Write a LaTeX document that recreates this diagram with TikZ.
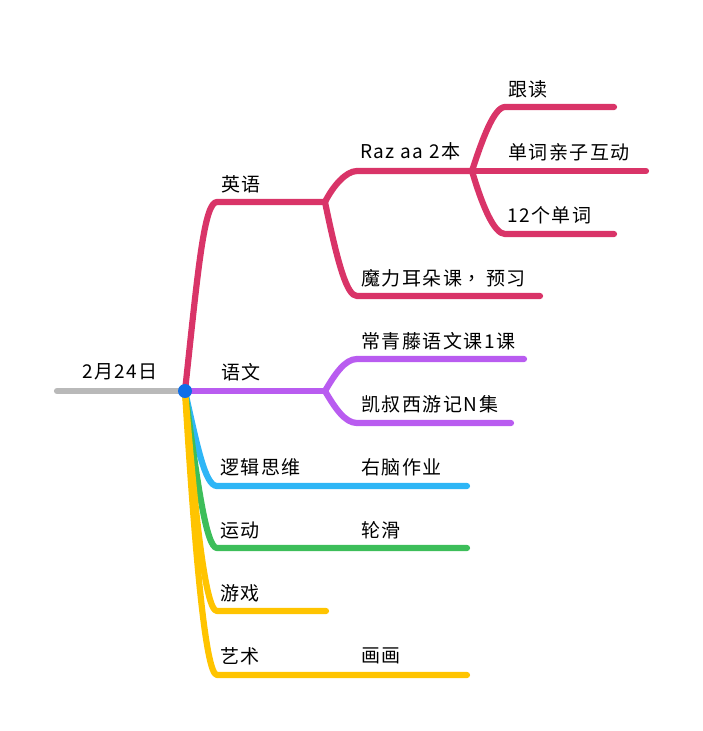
\documentclass[tikz,border=0pt]{standalone}
\usepackage{fontspec}
\setmainfont[LetterSpace=8]{Noto Sans CJK SC}
\newfontfamily\commafont[LetterSpace=8]{Noto Sans CJK TC}
\definecolor{cpink}{HTML}{D93468}
\definecolor{cpurple}{HTML}{B95CF0}
\definecolor{cblue}{HTML}{2EB6F6}
\definecolor{cgreen}{HTML}{3DBE5A}
\definecolor{cyellow}{HTML}{FFC400}
\definecolor{cgray}{HTML}{B9B9B9}
\definecolor{chub}{HTML}{0F6FE8}
\tikzset{
  link/.style={line width=6.2pt,line cap=round,line join=round},
  lbl/.style={anchor=west,inner sep=0pt,font=\fontsize{19}{21}\selectfont,text=black},
}
\begin{document}
\begin{tikzpicture}[x=1pt,y=-1pt]
\useasboundingbox (0,0) rectangle (702,731);
% junctions and free ends
\coordinate (root) at (57,391);
\coordinate (hub) at (185,391);
\coordinate (enA) at (217,202);
\coordinate (enJ) at (325,202);
\coordinate (razA) at (357,171);
\coordinate (razJ) at (472,171);
\coordinate (genA) at (505,107);
\coordinate (genE) at (614,107);
\coordinate (danE) at (646,171);
\coordinate (shiA) at (505,234);
\coordinate (shiE) at (614,234);
\coordinate (moA) at (357,296);
\coordinate (moE) at (540,296);
\coordinate (yuJ) at (325,391);
\coordinate (chA) at (357,359);
\coordinate (chE) at (524,359);
\coordinate (kaA) at (357,423);
\coordinate (kaE) at (511,423);
\coordinate (luA) at (217,486);
\coordinate (luE) at (467,486);
\coordinate (ydA) at (217,548);
\coordinate (ydE) at (467,548);
\coordinate (yxA) at (217,611);
\coordinate (yxE) at (326,611);
\coordinate (ysA) at (217,675);
\coordinate (ysE) at (467,675);
% connectors
\draw[link,cgray] (root) -- (hub);
\draw[link,cpink] (hub) .. controls (198,270) and (204,202) .. (enA) -- (enJ);
\draw[link,cpink] (enJ) .. controls (333,186) and (346,171) .. (razA) -- (razJ);
\draw[link,cpink] (enJ) .. controls (338,265) and (347,296) .. (moA) -- (moE);
\draw[link,cpink] (razJ) .. controls (482,140) and (494,107) .. (genA) -- (genE);
\draw[link,cpink] (razJ) -- (danE);
\draw[link,cpink] (razJ) .. controls (482,205) and (494,234) .. (shiA) -- (shiE);
\draw[link,cpurple] (hub) -- (yuJ);
\draw[link,cpurple] (yuJ) .. controls (335,374) and (345,359) .. (chA) -- (chE);
\draw[link,cpurple] (yuJ) .. controls (335,408) and (345,423) .. (kaA) -- (kaE);
\draw[link,cblue] (hub) .. controls (197,445) and (205,486) .. (luA) -- (luE);
\draw[link,cgreen] (hub) .. controls (197,480) and (206,548) .. (ydA) -- (ydE);
\draw[link,cyellow] (hub) .. controls (195,510) and (205,611) .. (yxA) -- (yxE);
\draw[link,cyellow] (hub) .. controls (194,540) and (205,675) .. (ysA) -- (ysE);
\fill[chub] (hub) circle (7pt);
% labels
\node[lbl] (t0) at (82,372) {2月24日};
\node[lbl] (t1) at (221,184) {英语};
\node[lbl] (t2) at (360,151) {Raz aa 2本};
\node[lbl] (t3) at (508,89) {跟读};
\node[lbl] (t4) at (508,152) {单词亲子互动};
\node[lbl] (t5) at (507,215) {12个单词};
\node[lbl] (t6) at (361,278) {魔力耳朵课{\commafont ，}\kern5pt 预习};
\node[lbl] (t7) at (221,372) {语文};
\node[lbl] (t8) at (361,341) {常青藤语文课1课};
\node[lbl] (t9) at (361,404) {凯叔西游记N集};
\node[lbl] (t10) at (220,467) {逻辑思维};
\node[lbl] (t11) at (361,467) {右脑作业};
\node[lbl] (t12) at (220,530) {运动};
\node[lbl] (t13) at (361,530) {轮滑};
\node[lbl] (t14) at (220,593) {游戏};
\node[lbl] (t15) at (220,656) {艺术};
\node[lbl] (t16) at (361,656) {画画};
\end{tikzpicture}
\end{document}
